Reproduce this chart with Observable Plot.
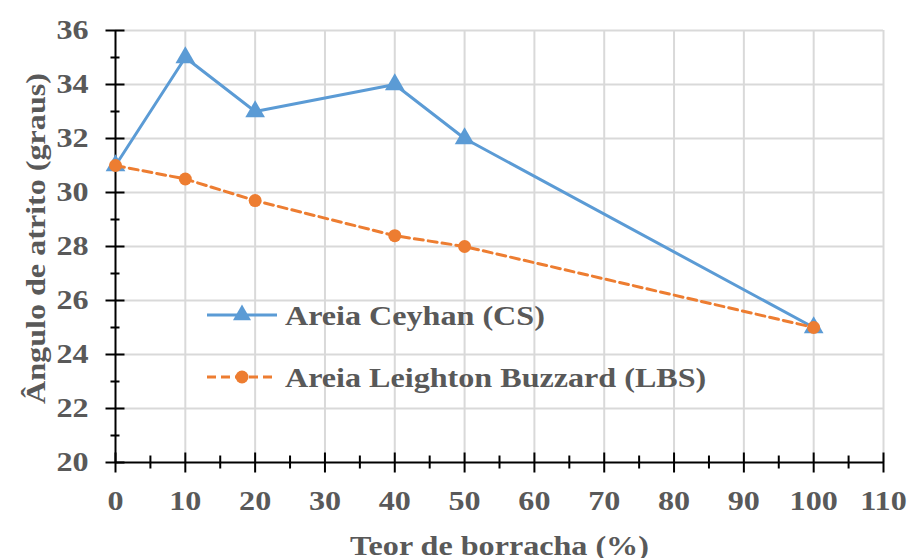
<!DOCTYPE html>
<html>
<head>
<meta charset="utf-8">
<script src="https://cdn.jsdelivr.net/npm/d3@7"></script>
<script src="https://cdn.jsdelivr.net/npm/@observablehq/plot@0.6"></script>
<style>
  body { margin: 0; background: white; }
  #wrap { position: relative; width: 911px; height: 558px; overflow: hidden; }
  #wrap svg { overflow: visible; }
  #legend { position: absolute; left: 0; top: 0; pointer-events: none; }
</style>
</head>
<body>
<div id="wrap"></div>
<script>
const teor = [0, 10, 20, 40, 50, 100];
const csValues = [31, 35, 33, 34, 32, 25];
const lbsValues = [31, 30.5, 29.7, 28.4, 28, 25];
const seriesNames = ["Areia Ceyhan (CS)", "Areia Leighton Buzzard (LBS)"];
const xTicks = [0, 10, 20, 30, 40, 50, 60, 70, 80, 90, 100, 110];
const xMinor = [5, 15, 25, 35, 45, 55, 65, 75, 85, 95, 105];
const yTicks = [20, 22, 24, 26, 28, 30, 32, 34, 36];
const yMinor = [21, 23, 25, 27, 29, 31, 33, 35];
const xTitle = "Teor de borracha (%)";
const yTitle = "Ângulo de atrito (graus)";

const blue = "#5B9BD5", orange = "#ED7D31", grid = "#d9d9d9", txt = "#595959";
const FF = "'Liberation Serif', 'Times New Roman', serif";
const font = {fontFamily: FF, fontWeight: "bold", fontSize: 27};
const STRETCH = 1.19;

const cs = teor.map((x, i) => ({x, y: csValues[i]}));
const lbs = teor.map((x, i) => ({x, y: lbsValues[i]}));

const vTick = (up, down) => ({draw(ctx) { ctx.moveTo(0, -up); ctx.lineTo(0, down); }});
const hTick = (left, right) => ({draw(ctx) { ctx.moveTo(-left, 0); ctx.lineTo(right, 0); }});

const chart = Plot.plot({
  width: 911, height: 558,
  marginLeft: 115, marginRight: 28, marginTop: 30, marginBottom: 96,
  x: {domain: [0, 110]},
  y: {domain: [20, 36]},
  style: {fontFamily: FF, fontWeight: "bold", fontSize: "27px", color: txt, background: "white", overflow: "visible"},
  marks: [
    Plot.ruleX(xTicks.filter(d => d > 0), {stroke: grid, strokeWidth: 2}),
    Plot.ruleY(yTicks.filter(d => d > 20), {stroke: grid, strokeWidth: 2}),
    Plot.ruleX([0], {stroke: "black", strokeWidth: 2}),
    Plot.ruleY([20], {stroke: "black", strokeWidth: 2}),
    Plot.dot(xTicks, {x: d => d, y: () => 20, symbol: vTick(10, 10), stroke: "black", strokeWidth: 2, r: 5}),
    Plot.dot(xMinor, {x: d => d, y: () => 20, symbol: vTick(7, 6), stroke: "black", strokeWidth: 2, r: 5}),
    Plot.dot(yTicks, {x: () => 0, y: d => d, symbol: hTick(10, 9), stroke: "black", strokeWidth: 2, r: 5}),
    Plot.dot(yMinor, {x: () => 0, y: d => d, symbol: hTick(5, 4), stroke: "black", strokeWidth: 2, r: 5}),
    Plot.axisX({ticks: xTicks, tickSize: 0, tickPadding: 28, tickFormat: d => String(d), label: null, fill: txt, ...font}),
    Plot.axisY({ticks: yTicks, tickSize: 0, tickPadding: 27, tickFormat: d => String(d), label: null, fill: txt, ...font}),
    Plot.text([xTitle], {frameAnchor: "bottom", dy: 84, lineAnchor: "middle", textAnchor: "middle", text: d => d, fill: txt, ...font}),
    Plot.text([yTitle], {frameAnchor: "left", dx: -79, dy: -8, rotate: -90, lineAnchor: "middle", textAnchor: "middle", text: d => d, fill: txt, ...font}),
    Plot.line(cs, {x: "x", y: "y", stroke: blue, strokeWidth: 3}),
    Plot.dot(cs, {x: "x", y: "y", symbol: "triangle", fill: blue, r: 7.3}),
    Plot.line(lbs, {x: "x", y: "y", stroke: orange, strokeWidth: 3, strokeDasharray: "9,5"}),
    Plot.dot(lbs, {x: "x", y: "y", symbol: "circle", fill: orange, r: 6.5})
  ]
});
const wrap = document.getElementById("wrap");
wrap.appendChild(chart);

// Widen glyphs horizontally (reference text is stretched)
function stretchText(t) {
  const tr = t.getAttribute("transform");
  if (tr) {
    t.setAttribute("transform", tr + ` scale(${STRETCH},1)`);
  } else {
    const x = +(t.getAttribute("x") || 0), y = +(t.getAttribute("y") || 0);
    t.setAttribute("x", 0); t.setAttribute("y", 0);
    t.setAttribute("transform", `translate(${x},${y}) scale(${STRETCH},1)`);
  }
}
chart.querySelectorAll("text").forEach(stretchText);

// Legend overlay
const ns = "http://www.w3.org/2000/svg";
const leg = document.createElementNS(ns, "svg");
leg.setAttribute("id", "legend");
leg.setAttribute("width", 911);
leg.setAttribute("height", 558);
const items = [
  {name: seriesNames[0], color: blue, dash: null, sym: "triangle", y: 315},
  {name: seriesNames[1], color: orange, dash: "9,5", sym: "circle", y: 377}
];
items.forEach(it => {
  const l = document.createElementNS(ns, "line");
  l.setAttribute("x1", 207); l.setAttribute("x2", 277);
  l.setAttribute("y1", it.y); l.setAttribute("y2", it.y);
  l.setAttribute("stroke", it.color); l.setAttribute("stroke-width", 3);
  if (it.dash) l.setAttribute("stroke-dasharray", it.dash);
  leg.appendChild(l);
  const p = document.createElementNS(ns, "path");
  const sym = it.sym === "triangle" ? d3.symbol(d3.symbolTriangle, 6.7 * 6.7 * Math.PI) : d3.symbol(d3.symbolCircle, 6.5 * 6.5 * Math.PI);
  p.setAttribute("d", sym());
  p.setAttribute("transform", `translate(242,${it.y})`);
  p.setAttribute("fill", it.color);
  leg.appendChild(p);
  const t = document.createElementNS(ns, "text");
  t.setAttribute("x", 285); t.setAttribute("y", it.y + 10);
  t.setAttribute("font-family", FF);
  t.setAttribute("font-weight", "bold");
  t.setAttribute("font-size", 27);
  t.setAttribute("fill", txt);
  t.textContent = it.name;
  leg.appendChild(t);
  stretchText(t);
});
wrap.appendChild(leg);
</script>
</body>
</html>
